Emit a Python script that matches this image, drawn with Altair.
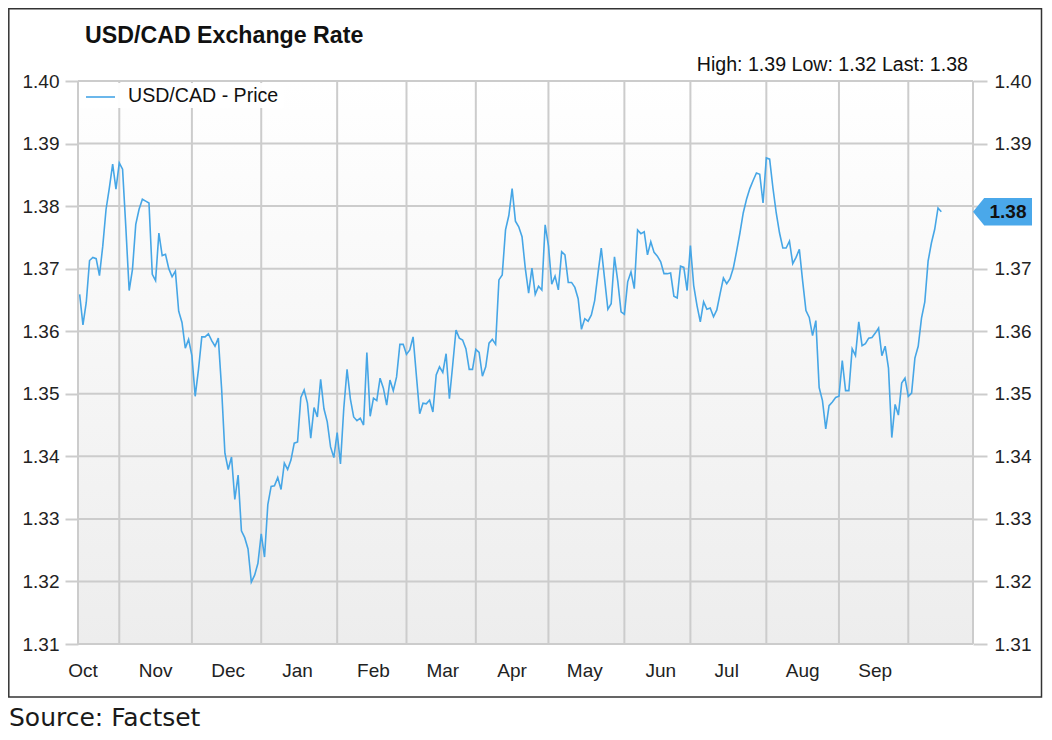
import altair as alt
import pandas as pd

# ---- data ----
prices = [
    1.3659, 1.3610, 1.3646, 1.3713, 1.3718, 1.3716, 1.3689, 1.3736, 1.3795, 1.3829,
    1.3867, 1.3827, 1.3869, 1.3859, 1.3765, 1.3665, 1.3699, 1.3771, 1.3795, 1.3811,
    1.3808, 1.3805, 1.3691, 1.3681, 1.3757, 1.3721, 1.3723, 1.3700, 1.3687, 1.3696,
    1.3632, 1.3614, 1.3573, 1.3587, 1.3561, 1.3496, 1.3539, 1.3591, 1.3591, 1.3596,
    1.3585, 1.3576, 1.3589, 1.3508, 1.3405, 1.3379, 1.3399, 1.3331, 1.3370, 1.3281,
    1.3270, 1.3252, 1.3199, 1.3210, 1.3229, 1.3276, 1.3239, 1.3323, 1.3352, 1.3353,
    1.3366, 1.3347, 1.3389, 1.3379, 1.3394, 1.3421, 1.3423, 1.3494, 1.3506, 1.3485,
    1.3429, 1.3478, 1.3463, 1.3523, 1.3476, 1.3455, 1.3415, 1.3398, 1.3438, 1.3388,
    1.3476, 1.3539, 1.3492, 1.3463, 1.3457, 1.3461, 1.3450, 1.3566, 1.3464, 1.3493,
    1.3489, 1.3525, 1.3509, 1.3482, 1.3522, 1.3505, 1.3527, 1.3579, 1.3579, 1.3563,
    1.3570, 1.3591, 1.3529, 1.3468, 1.3485, 1.3484, 1.3490, 1.3471, 1.3530, 1.3543,
    1.3534, 1.3564, 1.3492, 1.3546, 1.3602, 1.3589, 1.3586, 1.3572, 1.3539, 1.3539,
    1.3571, 1.3566, 1.3528, 1.3543, 1.3581, 1.3587, 1.3579, 1.3682, 1.3690, 1.3762,
    1.3785, 1.3828, 1.3776, 1.3767, 1.3751, 1.3700, 1.3661, 1.3701, 1.3659, 1.3672,
    1.3666, 1.3770, 1.3737, 1.3675, 1.3688, 1.3666, 1.3727, 1.3722, 1.3678, 1.3678,
    1.3670, 1.3652, 1.3603, 1.3620, 1.3616, 1.3626, 1.3649, 1.3692, 1.3733, 1.3684,
    1.3635, 1.3644, 1.3719, 1.3680, 1.3631, 1.3627, 1.3679, 1.3695, 1.3668, 1.3762,
    1.3756, 1.3759, 1.3722, 1.3743, 1.3726, 1.3720, 1.3711, 1.3692, 1.3692, 1.3693,
    1.3656, 1.3653, 1.3704, 1.3702, 1.3665, 1.3737, 1.3673, 1.3641, 1.3615, 1.3647,
    1.3635, 1.3637, 1.3623, 1.3634, 1.3660, 1.3685, 1.3676, 1.3684, 1.3701, 1.3728,
    1.3757, 1.3789, 1.3811, 1.3828, 1.3841, 1.3853, 1.3851, 1.3805, 1.3877, 1.3875,
    1.3829, 1.3789, 1.3757, 1.3733, 1.3733, 1.3744, 1.3708, 1.3718, 1.3731, 1.3680,
    1.3633, 1.3622, 1.3593, 1.3617, 1.3510, 1.3489, 1.3444, 1.3481, 1.3487, 1.3494,
    1.3496, 1.3553, 1.3505, 1.3505, 1.3572, 1.3561, 1.3615, 1.3577, 1.3580, 1.3589,
    1.3590, 1.3597, 1.3605, 1.3561, 1.3576, 1.3541, 1.3430, 1.3483, 1.3466, 1.3517,
    1.3525, 1.3496, 1.3501, 1.3557, 1.3576, 1.3621, 1.3647, 1.3712, 1.3741, 1.3763,
    1.3797, 1.3791,
]
start_date = "2023-10-16"
month_labels = ["Oct", "Nov", "Dec", "Jan", "Feb", "Mar", "Apr", "May", "Jun", "Jul", "Aug", "Sep"]
month_years = [2023, 2023, 2023, 2024, 2024, 2024, 2024, 2024, 2024, 2024, 2024, 2024]
month_numbers = [10, 11, 12, 1, 2, 3, 4, 5, 6, 7, 8, 9]
y_ticks = [1.31, 1.32, 1.33, 1.34, 1.35, 1.36, 1.37, 1.38, 1.39, 1.40]
x_domain = [-0.5, 270.6]
title_text = "USD/CAD Exchange Rate"
series_name = "USD/CAD - Price"
stats_text = "High: 1.39 Low: 1.32 Last: 1.38"
source_text = "Source: Factset"

# ---- derived tables ----
dates = pd.bdate_range(start_date, periods=len(prices))
df = pd.DataFrame({"i": list(range(len(prices))), "price": prices})
month_starts = [k for k in range(1, len(dates)) if dates[k].month != dates[k - 1].month]
label_pos = [int(dates.searchsorted(pd.Timestamp(yy, mm, 15))) + 1
             for yy, mm in zip(month_years, month_numbers)]
labels_df = pd.DataFrame({"pos": label_pos, "label": month_labels})
grid_x_df = pd.DataFrame({"m": month_starts})
edge_df = pd.DataFrame({"m": x_domain})
grid_y_df = pd.DataFrame({"v": y_ticks})
last_df = df.tail(1)
one = pd.DataFrame({"k": [0]})

W, H = 895, 563
FONT = "Liberation Sans"
GRID = "#cccccc"
BLUE = "#46a6e6"

xs = alt.Scale(domain=x_domain, nice=False, zero=False)
ys = alt.Scale(domain=[y_ticks[0], y_ticks[-1]], nice=False, zero=False)

bg = alt.Chart(one).mark_rect(
    color=alt.LinearGradient(
        gradient="linear",
        stops=[alt.GradientStop(color="#ffffff", offset=0),
               alt.GradientStop(color="#ededed", offset=1)],
        x1=0, x2=0, y1=0, y2=1)
).encode(x=alt.value(0), x2=alt.value(W), y=alt.value(0), y2=alt.value(H))

vgrid = alt.Chart(grid_x_df).mark_rule(color=GRID, strokeWidth=2).encode(
    x=alt.X("m:Q", scale=xs, axis=None))
edges = alt.Chart(edge_df).mark_rule(color=GRID, strokeWidth=2).encode(
    x=alt.X("m:Q", scale=xs, axis=None))

hgrid = alt.Chart(grid_y_df).mark_rule(color=GRID, strokeWidth=2).encode(
    y=alt.Y("v:Q", scale=ys,
            axis=alt.Axis(orient="right", values=y_ticks, format=".2f", title=None,
                          grid=False, domain=False, tickSize=14, tickColor=GRID,
                          tickWidth=2, labelPadding=7, labelAlign="left")))

legend_box = alt.Chart(one).mark_rect(color="white", opacity=0.95).encode(
    x=alt.value(2), x2=alt.value(206), y=alt.value(2), y2=alt.value(27))
legend_line = alt.Chart(one).mark_rule(color=BLUE, strokeWidth=1.6).encode(
    x=alt.value(8), x2=alt.value(37), y=alt.value(16))
legend_text = alt.Chart(one).mark_text(
    text=series_name, font=FONT, fontSize=19.6, color="#111", align="left", baseline="middle"
).encode(x=alt.value(50), y=alt.value(15))

line = alt.Chart(df).mark_line(color=BLUE, strokeWidth=1.6).encode(
    x=alt.X("i:Q", scale=xs,
            axis=alt.Axis(values=month_starts, labels=False, title=None, grid=False,
                          domain=False, tickSize=13, tickColor=GRID, tickWidth=2)),
    y=alt.Y("price:Q", scale=ys,
            axis=alt.Axis(orient="left", values=y_ticks, format=".2f", title=None,
                          grid=False, domain=False, tickSize=13, tickColor=GRID,
                          tickWidth=2, labelPadding=6)))

flag_shape = "M-1,0L-0.62,-0.47L1,-0.47L1,0.47L-0.62,0.47Z"
flag = alt.Chart(last_df).mark_point(
    shape=flag_shape, size=3481, filled=True, color="#4aa8ea", opacity=1, strokeWidth=0
).encode(x=alt.value(924.5), y=alt.Y("price:Q", scale=ys, axis=None))
flag_text = alt.Chart(last_df).mark_text(
    font=FONT, fontSize=19, fontWeight="bold", color="#111", align="center", baseline="middle"
).encode(x=alt.value(930), y=alt.Y("price:Q", scale=ys, axis=None),
         text=alt.Text("price:Q", format=".2f"))

month_text = alt.Chart(labels_df).mark_text(
    font=FONT, fontSize=19, color="#222", align="center", baseline="middle"
).encode(x=alt.X("pos:Q", scale=xs, axis=None), y=alt.value(H + 27), text="label:N")

title = alt.Chart(one).mark_text(
    text=title_text, font=FONT, fontSize=23.2, fontWeight="bold", color="#111",
    align="left", baseline="middle"
).encode(x=alt.value(7), y=alt.value(-45))

stats = alt.Chart(one).mark_text(
    text=stats_text, font=FONT, fontSize=19.6, color="#111", align="right", baseline="middle"
).encode(x=alt.value(890), y=alt.value(-16))

source = alt.Chart(one).mark_text(
    text=source_text, font="DejaVu Sans", fontSize=25, color="#1a1a1a", align="left",
    baseline="middle"
).encode(x=alt.value(-69), y=alt.value(637))

frame = alt.Chart(one).mark_rect(filled=False, stroke="#333333", strokeWidth=1.5).encode(
    x=alt.value(-69.2), x2=alt.value(963.5), y=alt.value(-72.2), y2=alt.value(616))

chart = alt.layer(
    bg, vgrid, edges, hgrid, legend_box, legend_line, legend_text, line,
    flag, flag_text, month_text, title, stats, source, frame
).resolve_axis(y="independent").properties(
    width=W, height=H,
    padding={"left": 70, "top": 73, "right": 71, "bottom": 88},
    autosize=alt.AutoSizeParams(type="none"),
    background="white",
).configure_view(stroke=None).configure_axis(
    labelFont=FONT, labelFontSize=19, labelColor="#222"
)

chart.save("out.html", embed_options={"renderer": "svg", "actions": False})
